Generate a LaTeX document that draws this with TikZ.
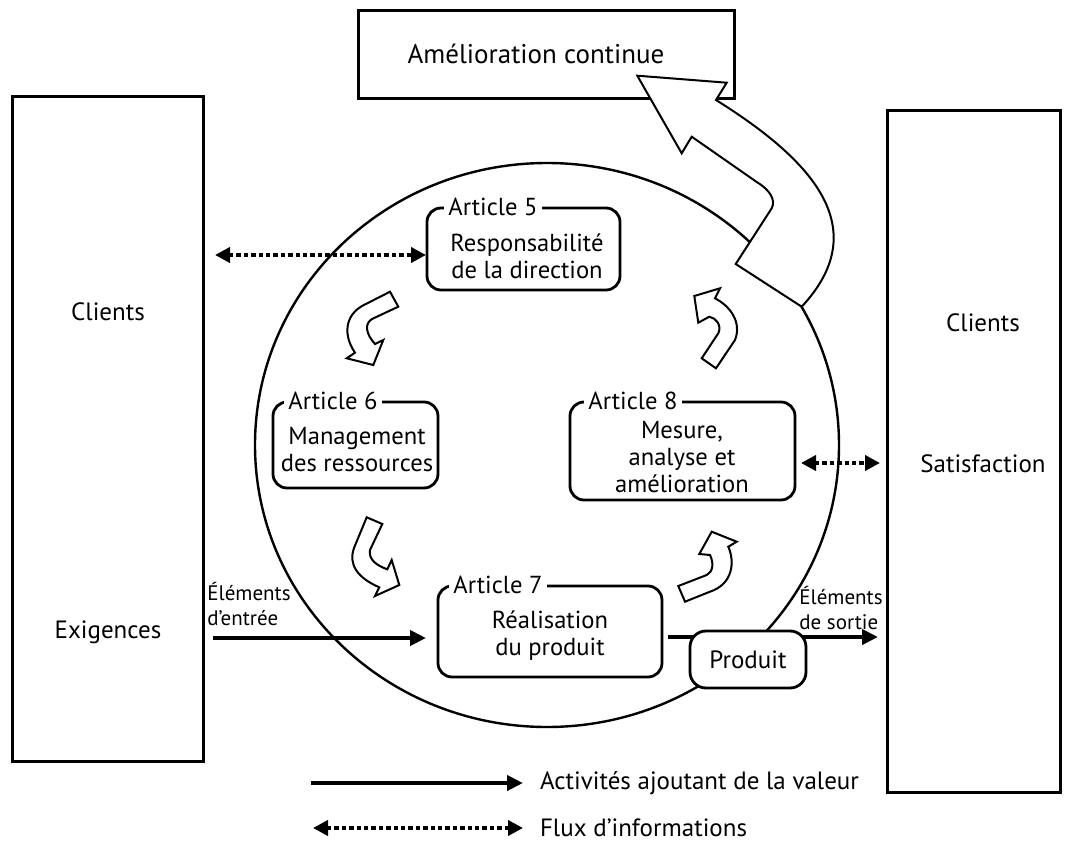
\documentclass[tikz,border=0pt]{standalone}
\usepackage{fontspec}
\setmainfont{PT Sans}
\usetikzlibrary{arrows.meta}

\begin{document}
\begin{tikzpicture}[x=0.5pt, y=-0.5pt,
  frame/.style={draw, line width=1.5pt, fill=white},
  artbox/.style={draw, line width=1.4pt, rounded corners=7pt, fill=white},
  arttxt/.style={align=center, font=\fontsize{12.3}{13.5}\selectfont},
  artlbl/.style={fill=white, inner xsep=2pt, inner ysep=1pt, anchor=west,
                 font=\fontsize{12.3}{13.5}\selectfont},
  sidetxt/.style={font=\fontsize{12.5}{14}\selectfont},
  flowtxt/.style={align=left, anchor=west, inner xsep=1pt,
                  font=\fontsize{10.5}{12.5}\selectfont},
  blockarr/.style={draw, line width=1pt, fill=white, line join=miter},
  valarr/.style={-{Triangle[length=8pt,width=7.5pt]}, line width=2.3pt},
  infoarr/.style={{Triangle[length=7.5pt,width=7.5pt]}-{Triangle[length=7.5pt,width=7.5pt]},
                  line width=2pt, dash pattern=on 2.2pt off 1.5pt}
]
  \useasboundingbox (0,0) rectangle (1067,841);

  % Process circle
  \draw[line width=1.2pt] (547,445) ellipse [x radius=146pt, y radius=141pt];

  % Outer frames
  \node[frame, minimum width=188pt, minimum height=44pt] at (546,54) (amel) {};
  \node[font=\fontsize{13.5}{15}\selectfont] at (536,54) (amelt) {Amélioration continue};
  \node[frame, minimum width=95.5pt, minimum height=332.5pt] at (107.5,428.5) (cliL) {};
  \node[sidetxt] at (108,312) (cliLa) {Clients};
  \node[sidetxt] at (108,632) (exig)  {Exigences};
  \node[frame, minimum width=86.5pt, minimum height=341pt] at (973.5,451) (cliR) {};
  \node[sidetxt] at (983,323) (cliRa) {Clients};
  \node[sidetxt] at (983,464) (satis) {Satisfaction};

  % Articles
  \node[artbox, minimum width=96.5pt, minimum height=41pt]  at (523.5,249) (a5) {};
  \node[arttxt] at (527,256) (a5t) {Responsabilité\\de la direction};
  \node[artlbl] at (444,207) (a5l) {Article 5};

  \node[artbox, minimum width=82.5pt, minimum height=43pt]  at (355.5,445) (a6) {};
  \node[arttxt] at (357,450) (a6t) {Management\\des ressources};
  \node[artlbl] at (284,401) (a6l) {Article 6};

  \node[artbox, minimum width=112.5pt, minimum height=49pt] at (682.5,451) (a8) {};
  \node[arttxt] at (682,457) (a8t) {Mesure,\\analyse et\\amélioration};
  \node[artlbl] at (584,401) (a8l) {Article 8};

  \node[artbox, minimum width=112pt, minimum height=45.5pt] at (550,631.5) (a7) {};
  \node[arttxt] at (550,636) (a7t) {Réalisation\\du produit};
  \node[artlbl] at (449,585) (a7l) {Article 7};

  % Cycle arrows
  \draw[blockarr] (390,291.7) -- (362,306) .. controls (345,316) and (343,335) .. (355,352.7)
    -- (346.7,358.3) -- (373.3,365) -- (383.3,340) -- (375,344)
    .. controls (366,334) and (364,324) .. (372,319) -- (398.3,306.7) -- cycle;
  \draw[blockarr] (366.7,517.3) -- (354,548) .. controls (348,565) and (358,578) .. (379.3,587.3)
    -- (375,596) -- (399.3,585) -- (391.7,560) -- (387.3,569.3)
    .. controls (378,566) and (368,560) .. (370,550) -- (382.3,524) -- cycle;
  \draw[blockarr] (678.3,586) -- (706.7,575) .. controls (713,572) and (714,563) .. (710,555)
    -- (699.3,554) -- (711.7,531.7) -- (736.7,541.7) -- (728.3,546.7)
    .. controls (735,562) and (733,584) .. (710,591.7) -- (685,601.7) -- cycle;
  \draw[blockarr] (701.7,358.3) -- (718.3,333.3) .. controls (722,325) and (716,318) .. (709.3,316.7)
    -- (698.3,322.7) -- (694.3,296) -- (720,288.3) -- (715,298.3)
    .. controls (730,306) and (742,322) .. (735,340) -- (716,368.3) -- cycle;

  % Improvement arrow
  \draw[blockarr] (637.3,75.7) -- (726.7,82.7) -- (716,100)
    .. controls (812,160) and (875,228) .. (801.7,306.7) -- (735.7,264) -- (771.7,208.3)
    .. controls (776,200) and (770,190) .. (756.7,182) -- (691.7,136.7) -- (681.7,153.3) -- cycle;

  % Information flows
  \coordinate (i1s) at (215,255);
  \coordinate (i1e) at (426,255);
  \coordinate (i2s) at (801,463);
  \coordinate (i2e) at (880,463);
  \draw[infoarr] (i1s) -- (i1e);
  \draw[infoarr] (i2s) -- (i2e);

  % Input / output
  \coordinate (ins)  at (213,638);
  \coordinate (ine)  at (426,638);
  \coordinate (outs) at (668,637);
  \coordinate (oute) at (878,637);
  \draw[valarr] (ins) -- (ine);
  \draw[valarr] (outs) -- (oute);
  \node[flowtxt] at (205,604) (inl)  {Éléments\\d’entrée};
  \node[flowtxt] at (797,608) (outl) {Éléments\\de sortie};
  \node[artbox, rounded corners=8pt, minimum width=58pt, minimum height=28.5pt,
        font=\fontsize{12.5}{14}\selectfont] at (748,659.5) (prod) {Produit};

  % Legend
  \coordinate (lg1s) at (311,783);
  \coordinate (lg1e) at (523,783);
  \coordinate (lg2s) at (313,828);
  \coordinate (lg2e) at (523,828);
  \draw[valarr] (lg1s) -- (lg1e);
  \draw[infoarr] (lg2s) -- (lg2e);
  \node[sidetxt, anchor=west] at (533,783) (lg1) {Activités ajoutant de la valeur};
  \node[sidetxt, anchor=west] at (533,828) (lg2) {Flux d’informations};

\end{tikzpicture}
\end{document}
